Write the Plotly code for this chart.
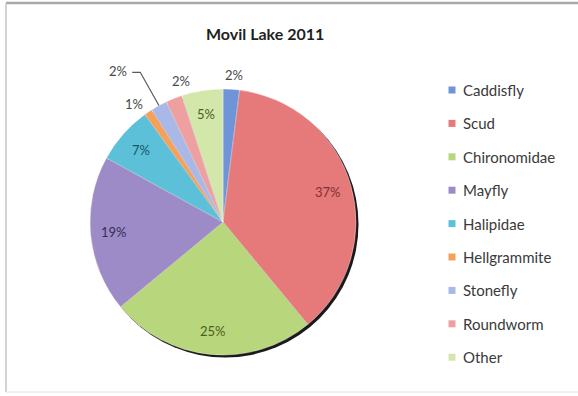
import math
import plotly.graph_objects as go

# Benthic macroinvertebrate counts (percent of sample), Movil Lake 2011
labels = ["Caddisfly", "Scud", "Chironomidae", "Mayfly", "Halipidae",
          "Hellgrammite", "Stonefly", "Roundworm", "Other"]
percents = [2, 37, 25, 19, 7, 1, 2, 2, 5]

slice_colors = ["#6f95d8", "#e6797a", "#b8d67c", "#9d8bc7", "#5cc0d9",
                "#f6a05a", "#a9b8e6", "#ee9fa0", "#d4e7ab"]
text_colors = ["#484848", "#84302e", "#4a601d", "#382b57", "#1b5566",
               "#484848", "#484848", "#484848", "#4a601d"]
# label placement: "in" = inside the slice, otherwise outside
placement = ["out", "in", "in", "in", "in", "out", "lead", "out", "in"]

W, H = 578, 396
CX, CY, R = 223, 222, 133          # pie centre and radius in pixels


def px(x, y):
    return x / W, 1 - y / H


fig = go.Figure()

dx0, dy0 = px(CX - R, CY + R)
dx1, dy1 = px(CX + R, CY - R)
fig.add_trace(go.Pie(
    labels=labels, values=percents, sort=False, direction="clockwise",
    rotation=0, textinfo="none", showlegend=False,
    marker=dict(colors=slice_colors, line=dict(color="rgba(255,255,255,0.6)", width=0.6)),
    domain=dict(x=[dx0, dx1], y=[dy0, dy1]),
    hoverinfo="label+percent",
))

shapes = []
annotations = []

# outer frame
shapes.append(dict(type="line", xref="paper", yref="paper",
                   x0=6 / W, x1=1, y0=1 - 3 / H, y1=1 - 3 / H,
                   line=dict(color="#a8a8a8", width=2.5)))
shapes.append(dict(type="line", xref="paper", yref="paper",
                   x0=6 / W, x1=6 / W, y0=1 - 3 / H, y1=1 - 392 / H,
                   line=dict(color="#c4c4c4", width=1.5)))
shapes.append(dict(type="line", xref="paper", yref="paper",
                   x0=6 / W, x1=1, y0=1 - 392 / H, y1=1 - 392 / H,
                   line=dict(color="#e2e2e2", width=1)))

# soft shadow under the pie
sx0, sy0 = px(CX - R + 2, CY + R + 2.5)
sx1, sy1 = px(CX + R + 2.5, CY - R + 2)
shapes.append(dict(type="circle", xref="paper", yref="paper", layer="below",
                   x0=sx0, x1=sx1, y0=sy0, y1=sy1,
                   fillcolor="#1a1a1a", line=dict(width=0)))

# percentage labels
total = sum(percents)
cum = 0.0
for lab, v, col, pl in zip(labels, percents, text_colors, placement):
    mid = 2 * math.pi * (cum + v / 2) / total
    cum += v
    txt = f"{round(100 * v / total)}%"
    if pl == "in":
        f, ang = 0.82, mid
    elif pl == "out":
        f = 1.11
        ang = mid + math.radians({"Caddisfly": 0.5, "Hellgrammite": -3,
                                  "Roundworm": 5}.get(lab, 0))
    else:
        f, ang = 1.38, mid - math.radians(6)
    x = CX + R * f * math.sin(ang)
    y = CY - R * f * math.cos(ang)
    ax, ay = px(x, y)
    annotations.append(dict(x=ax, y=ay, xref="paper", yref="paper", text=txt,
                            showarrow=False, xanchor="center", yanchor="middle",
                            font=dict(family="Lato", size=13, color=col)))
    if pl == "lead":
        ex = CX + R * math.sin(mid)
        ey = CY - R * math.cos(mid)
        elbow_x, elbow_y = x + 22, y + 1
        end_x = x + 14
        p = [px(ex, ey), px(elbow_x, elbow_y), px(end_x, elbow_y)]
        path = "M {} {} L {} {} L {} {}".format(p[0][0], p[0][1], p[1][0], p[1][1], p[2][0], p[2][1])
        shapes.append(dict(type="path", xref="paper", yref="paper", path=path,
                           line=dict(color="#595959", width=1.2)))

# legend: swatch + name per category
LEG_X, LEG_Y0, LEG_STEP = 452, 90, 33.4
for i, (lab, col) in enumerate(zip(labels, slice_colors)):
    yc = LEG_Y0 + i * LEG_STEP
    a0 = px(LEG_X - 3.5, yc + 3.5)
    a1 = px(LEG_X + 3.5, yc - 3.5)
    shapes.append(dict(type="rect", xref="paper", yref="paper",
                       x0=a0[0], y0=a0[1], x1=a1[0], y1=a1[1],
                       fillcolor=col, line=dict(width=0)))
    tx, ty = px(LEG_X + 9, yc)
    annotations.append(dict(x=tx, y=ty, xref="paper", yref="paper", text=lab,
                            showarrow=False, xanchor="left", yanchor="middle",
                            font=dict(family="Lato", size=15, color="#3a3a3a")))

# title
tx, ty = px(265, 33)
annotations.append(dict(x=tx, y=ty, xref="paper", yref="paper",
                        text="<b>Movil Lake 2011</b>", showarrow=False,
                        xanchor="center", yanchor="middle",
                        font=dict(family="Lato", size=16, color="#1f1f1f")))

fig.update_layout(
    width=W, height=H, margin=dict(l=0, r=0, t=0, b=0),
    paper_bgcolor="white", plot_bgcolor="white",
    shapes=shapes, annotations=annotations, showlegend=False,
)

fig.write_html("out.html")
